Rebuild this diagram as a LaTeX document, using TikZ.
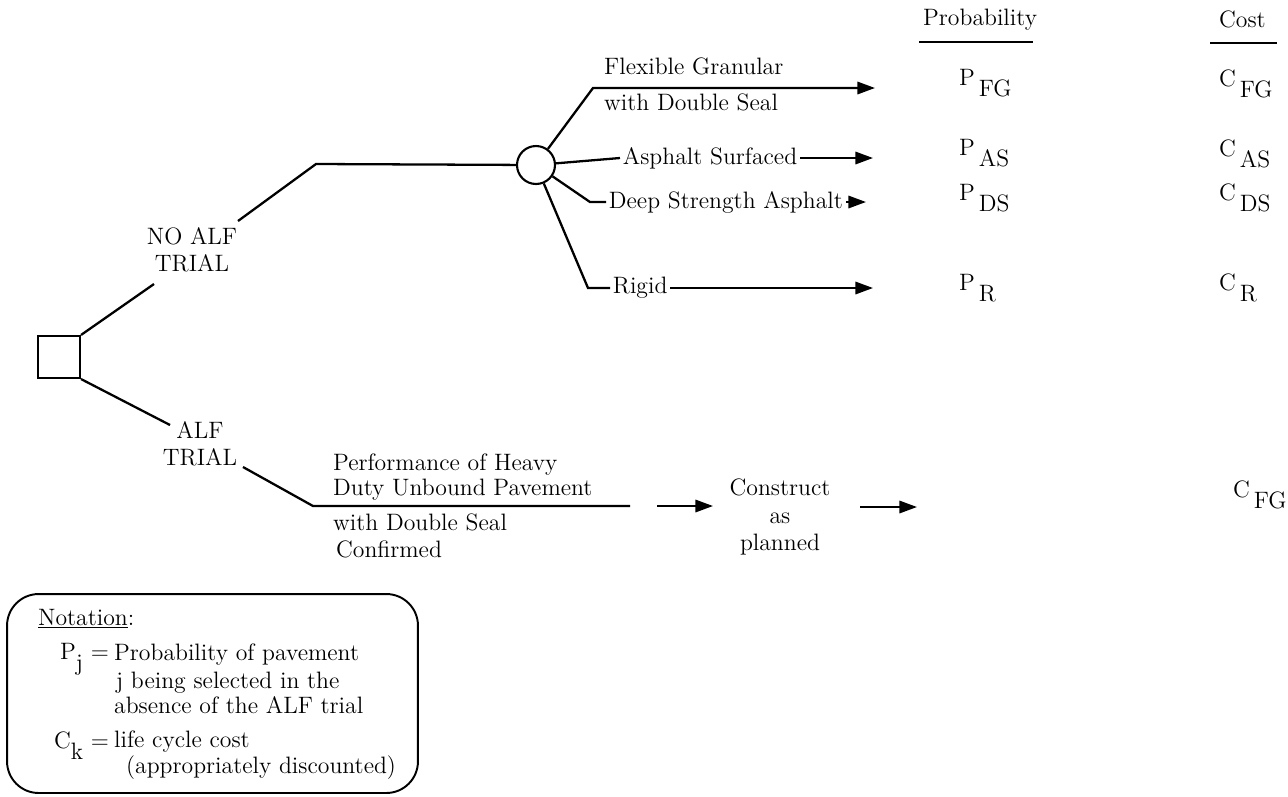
\documentclass[tikz,border=0pt]{standalone}
\usetikzlibrary{arrows.meta}
\newcommand{\txtsize}{\fontsize{13.5}{15.5}\selectfont}
\newcommand{\lowsub}[2]{#1\,\raisebox{-1.1ex}{#2}}

\begin{document}
\begin{tikzpicture}[x=0.02cm,y=-0.02cm,line width=1.3pt,every node/.style={font=\txtsize}]
\tikzstyle{decision}=[draw,rectangle,minimum size=0.84cm,inner sep=0pt,line width=1.2pt]
\tikzstyle{chance}=[draw,circle,minimum size=0.76cm,inner sep=0pt,line width=1.2pt]
\tikzstyle{txt}=[inner sep=0pt,anchor=base west]
\tikzstyle{lbl}=[inner sep=1pt,anchor=west]
\tikzstyle{arr}=[-{Triangle[length=10pt,width=7pt]}]
\useasboundingbox (0,0) rectangle (1288,796);

% decision and chance nodes
\node[decision] (D) at (59,357) {};
\node[chance] (C) at (536,165) {};

% no ALF trial
\node[align=center] (noalf) at (192,250) {NO ALF\\TRIAL};
\coordinate (u1) at (154,284);
\coordinate (u2) at (238,221);
\coordinate (u3) at (316,164);
\draw (D.north east) -- (u1);
\draw (u2) -- (u3) -- (C);

% ALF trial
\node[align=center] (alf) at (200,444) {ALF\\TRIAL};
\coordinate (l1) at (170,425);
\coordinate (l2) at (243,467);
\coordinate (l3) at (313,506);
\coordinate (l4) at (630,506);
\draw (D.south east) -- (l1);
\draw (l2) -- (l3) -- (l4);
\node[txt] (perf1) at (332,470) {Performance of Heavy};
\node[txt] (perf2) at (332,495) {Duty Unbound Pavement};
\node[txt] (perf3) at (332,530) {with Double Seal};
\node[txt] (perf4) at (335,557) {Confirmed};
\node[align=center] (build) at (780,517) {Construct\\as\\planned};
\coordinate (b1) at (657,506);
\coordinate (b2) at (713,506);
\coordinate (b3) at (860,507);
\coordinate (b4) at (917,507);
\draw[arr] (b1) -- (b2);
\draw[arr] (b3) -- (b4);

% pavement types
\coordinate (cFG) at (593,88);
\coordinate (tFG) at (875,88);
\draw[arr] (C) -- (cFG) -- (tFG);
\node[txt] (fg1) at (603,74) {Flexible Granular};
\node[txt] (fg2) at (603,110) {with Double Seal};

\node[lbl] (as) at (620,158) {Asphalt Surfaced};
\coordinate (tAS) at (873,158);
\draw (C) -- (as.west);
\draw[arr] (as.east) -- (tAS);

\coordinate (cDS) at (590,202);
\node[lbl] (ds) at (606,202) {Deep Strength Asphalt};
\coordinate (tDS) at (866,202);
\draw (C) -- (cDS) -- (ds.west);
\draw[arr] (ds.east) -- (tDS);

\coordinate (cR) at (588,288);
\node[lbl] (rg) at (610,288) {Rigid};
\coordinate (tR) at (873,288);
\draw (C) -- (cR) -- (rg.west);
\draw[arr] (rg.east) -- (tR);

% probability and cost columns
\node[txt] (prob) at (922,25) {Probability};
\draw[line width=1pt] (919,42) -- (1033,42);
\node[txt] (cost) at (1218,27) {Cost};
\draw[line width=1pt] (1210,43) -- (1277,43);

\node[txt] (pFG) at (958,85) {\lowsub{P}{FG}};
\node[txt] (pAS) at (958,155) {\lowsub{P}{AS}};
\node[txt] (pDS) at (958,200) {\lowsub{P}{DS}};
\node[txt] (pR) at (958,290) {\lowsub{P}{R}};
\node[txt] (kFG) at (1218,86) {\lowsub{C}{FG}};
\node[txt] (kAS) at (1218,156) {\lowsub{C}{AS}};
\node[txt] (kDS) at (1218,200) {\lowsub{C}{DS}};
\node[txt] (kR) at (1218,290) {\lowsub{C}{R}};
\node[txt] (kB) at (1232,497) {\lowsub{C}{FG}};

% notation
\node[draw,rounded corners=18pt,line width=1.1pt,minimum width=8.22cm,minimum height=3.98cm,inner sep=0pt] (notebox) at (212.5,693.5) {};
\node[txt] (n0) at (37,625) {\underline{Notation}:};
\node[inner sep=0pt,anchor=base east] (n1) at (110,659) {P\raisebox{-1.1ex}{j} =};
\node[txt] (n2) at (113,660) {Probability of pavement};
\node[txt] (n3) at (115,688) {j being selected in the};
\node[txt] (n4) at (113,713) {absence of the ALF trial};
\node[inner sep=0pt,anchor=base east] (n5) at (110,748) {C\raisebox{-1.1ex}{k} =};
\node[txt] (n6) at (113,747) {life cycle cost};
\node[txt] (n7) at (125,773) {(appropriately discounted)};
\end{tikzpicture}
\end{document}
